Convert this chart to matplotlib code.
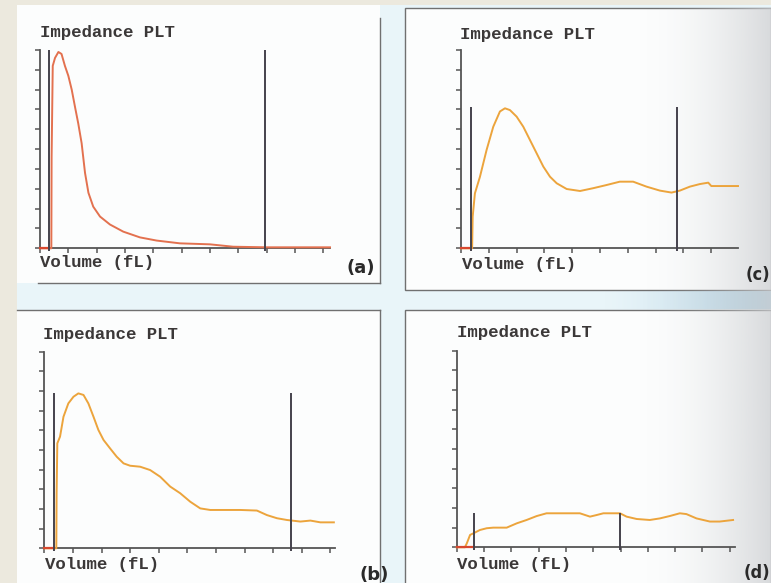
import numpy as np
import matplotlib
matplotlib.use("Agg")
import matplotlib.pyplot as plt
from matplotlib.patches import Rectangle

# ---------------- data (arbitrary histogram units) -------------
a_x = [0, 0.40, 0.41, 0.45, 0.53, 0.65, 0.76, 0.88, 1.0, 1.12, 1.24, 1.35, 1.47, 1.59,
       1.71, 1.88, 2.12, 2.47, 2.94, 3.53, 4.12, 4.94, 6.0, 6.82, 8.0, 10.24]
a_y = [0, 0, 4.6, 9.2, 9.6, 9.9, 9.8, 9.2, 8.7, 8.0, 7.1, 6.3, 5.3, 3.8,
       2.8, 2.1, 1.6, 1.2, 0.84, 0.55, 0.39, 0.25, 0.2, 0.08, 0.05, 0.05]

b_x = [0, 0.42, 0.43, 0.455, 0.55, 0.67, 0.84, 1.02, 1.19, 1.37, 1.54, 1.72, 1.89, 2.07,
       2.3, 2.53, 2.77, 3.0, 3.35, 3.7, 4.05, 4.4, 4.75, 5.1, 5.45, 5.8, 6.27, 6.85, 7.43,
       7.78, 8.13, 8.48, 8.95, 9.3, 9.65, 10.12]
b_y = [0, 0, 2.8, 5.34, 5.68, 6.69, 7.37, 7.71, 7.88, 7.8, 7.37, 6.69, 6.02, 5.51,
       5.08, 4.66, 4.32, 4.2, 4.15, 3.98, 3.64, 3.14, 2.8, 2.37, 2.03, 1.95, 1.95, 1.95, 1.92,
       1.69, 1.53, 1.44, 1.36, 1.41, 1.32, 1.32]

c_x = [0, 0.40, 0.42, 0.50, 0.68, 0.92, 1.16, 1.40, 1.58, 1.76, 2.0, 2.24, 2.48, 2.72,
       2.96, 3.2, 3.44, 3.8, 4.28, 4.75, 5.23, 5.71, 6.19, 6.67, 7.15, 7.57, 7.87, 8.23,
       8.59, 8.89, 9.0, 9.96]
c_y = [0, 0, 1.6, 2.77, 3.6, 4.96, 6.13, 6.9, 7.06, 6.97, 6.64, 6.13, 5.46, 4.79,
       4.12, 3.61, 3.28, 2.99, 2.89, 3.03, 3.19, 3.36, 3.36, 3.11, 2.91, 2.81, 2.91, 3.11,
       3.24, 3.31, 3.14, 3.14]

d_x = [0, 0.30, 0.37, 0.49, 0.61, 0.85, 1.1, 1.34, 1.83, 2.2, 2.56, 2.93, 3.29, 3.66,
       4.02, 4.51, 4.88, 5.12, 5.37, 5.98, 6.22, 6.59, 7.07, 7.44, 7.8, 8.17, 8.41, 8.78,
       9.27, 9.63, 10.12]
d_y = [0, 0, 0.2, 0.63, 0.71, 0.88, 0.97, 1.0, 1.0, 1.22, 1.39, 1.59, 1.73, 1.73,
       1.73, 1.73, 1.56, 1.64, 1.73, 1.73, 1.56, 1.44, 1.39, 1.47, 1.59, 1.73, 1.69, 1.47,
       1.31, 1.31, 1.39]

# discriminator positions and heights
a_disc = [0.33, 7.96]; a_disc_h = [10.0, 10.0]
b_disc = [0.35, 8.62]; b_disc_h = [7.88, 7.88]
c_disc = [0.36, 7.78]; c_disc_h = [7.14, 7.14]
d_disc = [0.65, 5.98]; d_disc_h = [1.73, 1.73]

title_text = "Impedance PLT"
xlabel_text = "Volume (fL)"
panel_labels = ["(a)", "(b)", "(c)", "(d)"]
y_ticks = list(range(0, 11))

# ---------------- figure ----------------
W, H = 771, 583
fig = plt.figure(figsize=(W / 100, H / 100), dpi=100)
fig.patch.set_facecolor("#e9f5f9")

bg = fig.add_axes([0, 0, 1, 1], zorder=0)
bg.set_xlim(0, W)
bg.set_ylim(H, 0)
bg.axis("off")

beige = "#ece9de"
white = "#fcfdfd"
edge = "#707070"
bg.add_patch(Rectangle((0, 0), 17, H, color=beige, lw=0))
bg.add_patch(Rectangle((0, 0), W, 5, color=beige, lw=0))
# panel (a)
bg.add_patch(Rectangle((17, 5), 363, 278, color=white, lw=0))
bg.plot([38, 380], [283, 283], color=edge, lw=1.0)
bg.plot([380, 380], [18, 283], color=edge, lw=1.0)
# panel (b)
bg.add_patch(Rectangle((17, 310), 363, 273, color=white, lw=0))
bg.plot([17, 380], [310, 310], color=edge, lw=1.0)
bg.plot([380, 380], [310, 583], color=edge, lw=1.0)
# panel (c)
bg.add_patch(Rectangle((405, 8), 366, 282, facecolor=white, edgecolor=edge, lw=1.0))
# panel (d)
bg.add_patch(Rectangle((405, 310), 366, 280, facecolor=white, edgecolor=edge, lw=1.0))
# darker blue strip at right between (c) and (d)
strip = np.zeros((1, 100, 4))
strip[..., 0] = 0.66; strip[..., 1] = 0.80; strip[..., 2] = 0.88
strip[..., 3] = np.linspace(0, 1, 100) ** 1.5
bg.imshow(strip, extent=(600, W, 309, 291), aspect="auto", zorder=2)
# gray shading at right (scan shadow)
shade = np.zeros((1, 200, 4))
shade[..., 0] = 0.80; shade[..., 1] = 0.81; shade[..., 2] = 0.82
shade[..., 3] = np.linspace(0, 0.85, 200) ** 1.8
bg.imshow(shade, extent=(640, W, 583, 8), aspect="auto", zorder=3)

line_dark = "#45424c"
spine_col = "#555555"
red = "#d9482e"


def px_axes(x0, ytop, xend, ybot):
    return fig.add_axes([x0 / W, 1 - ybot / H, (xend - x0) / W, (ybot - ytop) / H], zorder=5)


panels = [
    (a_x, a_y, a_disc, a_disc_h, "#e3714f", (40, 50, 330, 248.3), 10.24, (40, 33), (40, 262), (361, 268), "normal"),
    (b_x, b_y, b_disc, b_disc_h, "#eca43c", (44.3, 351.7, 335, 548.3), 10.16, (43, 334), (45, 564), (374, 575), "normal"),
    (c_x, c_y, c_disc, c_disc_h, "#eca43c", (461, 50, 738, 248.3), 9.96, (460, 34), (462, 265), (758, 275), "condensed"),
    (d_x, d_y, d_disc, d_disc_h, "#eca43c", (456.7, 350.7, 735, 547.3), 10.19, (457, 333), (457, 564), (757, 573), "condensed"),
]

for (xs, ys, disc, disc_h, col, box, xmax, tpos, xlpos, lpos, stretch), lab in zip(panels, panel_labels):
    ax = px_axes(*box)
    ax.set_facecolor("none")
    ax.set_xlim(0, xmax)
    ax.set_ylim(0, 10)
    for s in ("top", "right"):
        ax.spines[s].set_visible(False)
    for s in ("left", "bottom"):
        ax.spines[s].set_color(spine_col)
        ax.spines[s].set_linewidth(1.3)
    ax.set_xticks(range(0, int(xmax) + 1))
    ax.set_yticks(y_ticks)
    ax.tick_params(axis="both", length=3.6, width=1.1, color=spine_col,
                   labelbottom=False, labelleft=False, direction="out")
    # red baseline before lower discriminator
    ax.plot([0, disc[0]], [0, 0], color=red, lw=1.6, clip_on=False, zorder=4)
    ax.plot(xs, ys, color=col, lw=1.4, clip_on=False, zorder=3)
    ax.vlines(disc, [-0.12, -0.12], disc_h, colors=line_dark, lw=1.4, clip_on=False, zorder=5)

    fig.text(tpos[0] / W, 1 - tpos[1] / H, title_text, family="Liberation Mono",
             fontweight="bold", fontsize=12.5, color="#3b3838", va="center", ha="left")
    fig.text(xlpos[0] / W, 1 - xlpos[1] / H, xlabel_text, family="Liberation Mono",
             fontweight="bold", fontsize=12.5, color="#3b3838", va="center", ha="left")
    fig.text(lpos[0] / W, 1 - lpos[1] / H, lab, family="DejaVu Sans", fontstretch=stretch,
             fontweight="bold", fontsize=13, color="#2a2a2a", va="center", ha="center")

fig.savefig("out.png", dpi=100, facecolor=fig.get_facecolor())
